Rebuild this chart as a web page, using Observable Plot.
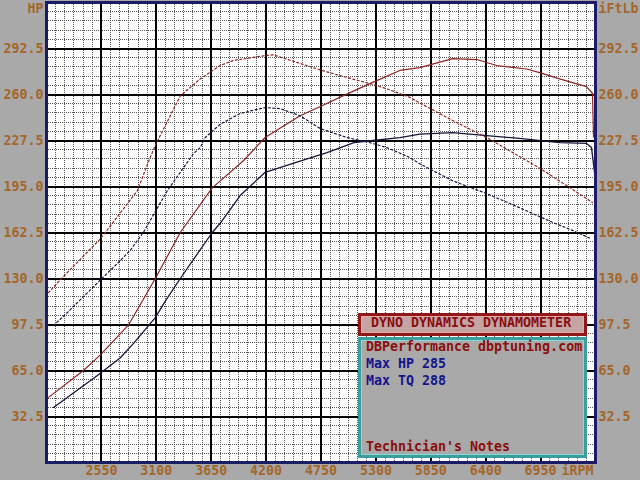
<!DOCTYPE html>
<html><head><meta charset="utf-8">
<script src="https://cdn.jsdelivr.net/npm/d3@7"></script>
<script src="https://cdn.jsdelivr.net/npm/@observablehq/plot@0.6"></script>
<style>
html,body{margin:0;padding:0;background:#a9a9a9;}
#wrap{position:relative;width:640px;height:480px;overflow:hidden;font-family:"DejaVu Sans Mono",monospace;font-weight:bold;font-size:13.3px;}
#wrap svg{position:absolute;left:0;top:0;}
.box{position:absolute;box-sizing:border-box;}
#box1{left:358px;top:313px;width:229px;height:23px;border:3px solid #901818;box-shadow:inset 0 0 0 1px #e8a8a8;background:#c6a4a4;}
#box2{left:358px;top:337px;width:229px;height:121px;border:3px solid #3a9e9e;box-shadow:inset 0 0 0 1px #8ad8d8;background:#a9a9a9;}
.t{position:absolute;white-space:pre;line-height:14px;}
.red{color:#8a0e0e;}
.blue{color:#14148c;}
</style>
</head><body>
<div id="wrap"></div>
<script>
// ---- data ----
const xTicks = [2550, 3100, 3650, 4200, 4750, 5300, 5850, 6400, 6950];
const yTicks = [32.5, 65.0, 97.5, 130.0, 162.5, 195.0, 227.5, 260.0, 292.5];

const redHpRpm = [2020,2370,2540,2820,3090,3340,3660,3970,4190,4540,4760,4970,5240,5540,5740,6070,6310,6510,6810,6940,7140,7410,7470,7480];
const redHpVal = [46,65,76,97,130,162.5,194,213,229.6,245,252,259,267.7,277,279,285.4,284.7,280.5,278,275.5,271,265.6,260.7,230];

const redTqRpm = [2020,2150,2540,2910,3030,3090,3340,3540,3740,3870,4190,4270,4540,4760,5010,5240,5410,5640,5740,6070,6410,6670,6940,7210,7470];
const redTqVal = [120,130,158,192,214,224,259,271,280.5,284,287.5,288,282,277,272,267.7,264,258,254,241.6,229.6,219,208,195.7,183.7];

const darkHpRpm = [2070,2510,2740,2870,3090,3190,3340,3660,3740,3940,4190,4540,4810,5080,5270,5540,5740,6070,6410,6740,7140,7410,7460,7490];
const darkHpVal = [38.9,61.5,74,84,102.4,114,130,162.5,169,188.6,205,213,219,226,227.5,229.6,232,233,231,229,226,225.4,222.5,205];

const darkTqRpm = [2070,2210,2540,2740,2840,2970,3210,3470,3540,3590,3740,3940,4190,4340,4540,4740,5010,5240,5410,5640,5740,6070,6410,6740,7070,7270,7460];
const darkTqVal = [96.8,106,129,142.7,150,162.5,192,218,222.5,229.6,239,246.6,250.8,250,245,236,229.6,226,222.5,215.5,211,199,190,180,169.6,164,158];

const leftLabel = "HP";
const rightLabel = "iFtLb";
const xLabel = "iRPM";
const bannerText = "DYNO DYNAMICS DYNAMOMETER";
const infoLines = ["DBPerformance dbptuning.com", "Max HP 285", "Max TQ 288", "Technician's Notes"];

// ---- build ----
const toRows = (r, v) => r.map((x, i) => ({rpm: x, value: v[i]}));
const redHp = toRows(redHpRpm, redHpVal);
const redTq = toRows(redTqRpm, redTqVal);
const darkHp = toRows(darkHpRpm, darkHpVal);
const darkTq = toRows(darkTqRpm, darkTqVal);

const minorX = d3.range(2000, 7500, 550 / 6);
const minorY = d3.range(0, 325, 6.5);

const labelColor = "#a4662a";
const RED = "#8e2222";
const DARK = "#15153e";

const plot = Plot.plot({
  width: 640, height: 480,
  marginLeft: 46, marginRight: 45, marginTop: 2, marginBottom: 18,
  style: {background: "transparent", fontFamily: "DejaVu Sans Mono, monospace", fontSize: "13.3px", fontWeight: "bold"},
  x: {domain: [2000, 7500]},
  y: {domain: [0, 325]},
  marks: [
    Plot.frame({fill: "#ffffff"}),
    Plot.ruleX(minorX, {stroke: "#555", strokeWidth: 1, strokeDasharray: "1,1", shapeRendering: "crispEdges"}),
    Plot.ruleY(minorY, {stroke: "#555", strokeWidth: 1, strokeDasharray: "1,1", shapeRendering: "crispEdges"}),
    Plot.ruleX(xTicks, {stroke: "#000", strokeWidth: 2, shapeRendering: "crispEdges"}),
    Plot.ruleY(yTicks, {stroke: "#000", strokeWidth: 2, shapeRendering: "crispEdges"}),
    Plot.line(redHp, {x: "rpm", y: "value", stroke: RED, strokeWidth: 1.2}),
    Plot.line(darkHp, {x: "rpm", y: "value", stroke: DARK, strokeWidth: 1.3}),
    Plot.line(redTq, {x: "rpm", y: "value", stroke: RED, strokeWidth: 1.2, strokeDasharray: "2,2.5"}),
    Plot.line(darkTq, {x: "rpm", y: "value", stroke: DARK, strokeWidth: 1.2, strokeDasharray: "2,2.5"}),
    Plot.axisX(xTicks, {tickSize: 0, tickPadding: 3, color: labelColor, tickFormat: d => String(d), label: null}),
    Plot.axisY(yTicks, {anchor: "left", tickSize: 0, tickPadding: 3, color: labelColor, tickFormat: d => d.toFixed(1), label: null}),
    Plot.axisY(yTicks, {anchor: "right", tickSize: 0, tickPadding: 3, color: labelColor, tickFormat: d => d.toFixed(1), label: null}),
    Plot.text([leftLabel], {text: d => d, frameAnchor: "top-left", dx: -3, dy: 1, textAnchor: "end", lineAnchor: "top", fill: labelColor}),
    Plot.text([rightLabel], {text: d => d, frameAnchor: "top-right", dx: 3, dy: 1, textAnchor: "start", lineAnchor: "top", fill: labelColor}),
    Plot.text([xLabel], {text: d => d, frameAnchor: "bottom-right", dx: -2, dy: 3, textAnchor: "end", lineAnchor: "top", fill: labelColor}),
    Plot.frame({stroke: "#1c1c66", strokeWidth: 3, shapeRendering: "crispEdges"})
  ]
});

const wrap = document.getElementById("wrap");
wrap.appendChild(plot);

function addDiv(cls, id, text, left, top) {
  const d = document.createElement("div");
  if (cls) d.className = cls;
  if (id) d.id = id;
  if (text != null) d.textContent = text;
  if (left != null) { d.style.left = left + "px"; d.style.top = top + "px"; }
  wrap.appendChild(d);
  return d;
}
addDiv("box", "box1");
addDiv("box", "box2");
addDiv("t red", null, bannerText, 371, 316);
addDiv("t red", null, infoLines[0], 366, 340);
addDiv("t blue", null, infoLines[1], 366, 357);
addDiv("t blue", null, infoLines[2], 366, 374);
addDiv("t red", null, infoLines[3], 366, 440);
</script>
</body></html>
